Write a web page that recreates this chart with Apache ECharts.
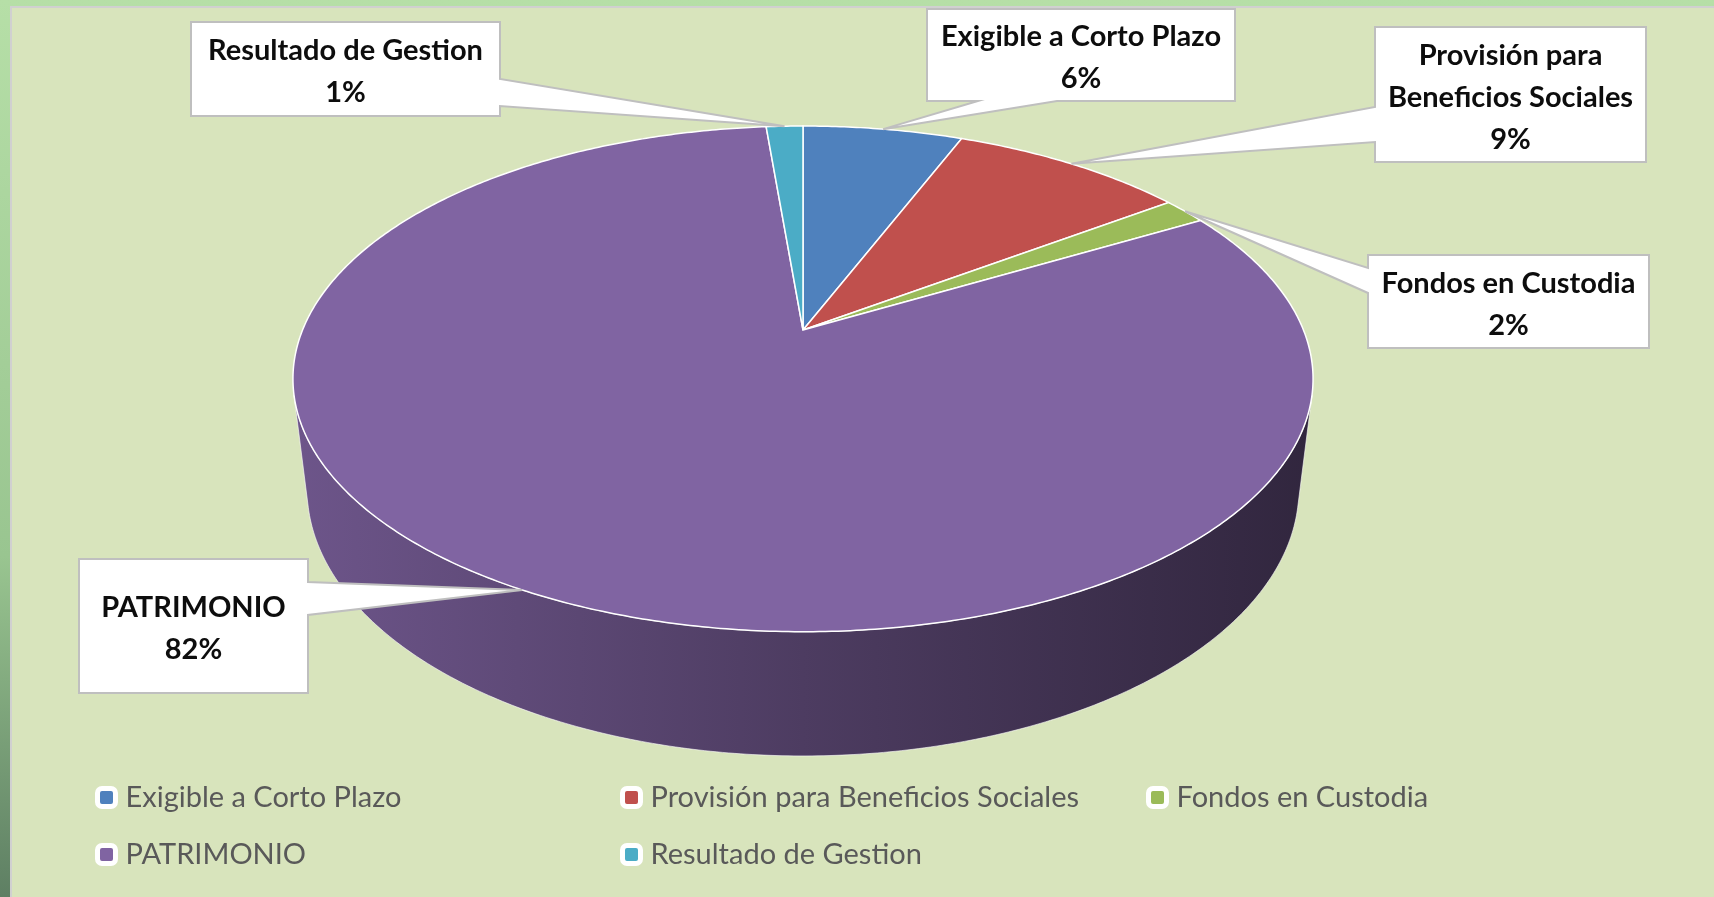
<!DOCTYPE html>
<html>
<head>
<meta charset="utf-8">
<script src="https://cdn.jsdelivr.net/npm/echarts@6/dist/echarts.min.js"></script>
<style>
html, body { margin: 0; padding: 0; }
#main { width: 1714px; height: 897px; }
</style>
</head>
<body>
<div id="main"></div>
<script>
// data
var categories = ['Exigible a Corto Plazo', 'Provisión para Beneficios Sociales', 'Fondos en Custodia', 'PATRIMONIO', 'Resultado de Gestion'];
var values = [6.1, 9.0, 1.7, 81.8, 1.4];
var labelNames = ['Exigible a Corto Plazo', 'Provisión para\nBeneficios Sociales', 'Fondos en Custodia', 'PATRIMONIO', 'Resultado de Gestion'];
var colors = ['#4f81bd', '#c0504d', '#9bbb59', '#8064a2', '#4bacc6'];

// callout boxes: [x, y, w, h], side the wedge leaves from, wedge base along that side
var callouts = [
  { box: [927, 9, 308, 92], side: 'bottom', base: [978, 1057] },
  { box: [1375, 27, 271, 135], side: 'left', base: [107, 142] },
  { box: [1368, 255, 281, 93], side: 'left', base: [268, 293] },
  { box: [79, 559, 229, 134], side: 'right', base: [582, 615] },
  { box: [191, 22, 309, 94], side: 'right', base: [79, 106] }
];
// legend slots (3 columns, 2 rows)
var legendSlots = [[95, 783], [620, 783], [1146, 783], [95, 840], [620, 840]];

// 3d pie camera
var CX = 803, CY = 330, F = 2262.5, D = 4.521;
var SA = 0.4864, CA = 0.8737, H = 0.256;
var T = 1 / (D * CA);
var wallFrom = Math.acos(-T), wallTo = 2 * Math.PI - Math.acos(-T);

var total = values.reduce(function (a, b) { return a + b; }, 0);
var startAngles = [], endAngles = [];
var acc = 0;
values.forEach(function (v) {
  startAngles.push(acc / total * 2 * Math.PI);
  acc += v;
  endAngles.push(acc / total * 2 * Math.PI);
});

function darken(hex, k) {
  var n = parseInt(hex.slice(1), 16);
  var r = Math.round(((n >> 16) & 255) * k);
  var g = Math.round(((n >> 8) & 255) * k);
  var b = Math.round((n & 255) * k);
  return 'rgb(' + r + ',' + g + ',' + b + ')';
}

function proj(phi, lvl) {
  var X = Math.sin(phi), Z = -Math.cos(phi), Y = -lvl * H;
  var v = Y * CA - Z * SA;
  var w = D - Z * CA - Y * SA;
  return [CX + F * X / w, CY - F * v / w];
}

function arc(a, b, lvl) {
  var pts = [];
  var n = Math.max(2, Math.ceil(Math.abs(b - a) / 0.01));
  for (var k = 0; k <= n; k++) {
    pts.push(proj(a + (b - a) * k / n, lvl));
  }
  return pts;
}

function calloutShape(c, tip) {
  var x = c.box[0], y = c.box[1], w = c.box[2], h = c.box[3];
  var b = c.base;
  var pts = [[x, y], [x + w, y]];
  if (c.side === 'right') pts.push([x + w, b[0]], tip, [x + w, b[1]]);
  pts.push([x + w, y + h]);
  if (c.side === 'bottom') pts.push([b[1], y + h], tip, [b[0], y + h]);
  pts.push([x, y + h]);
  if (c.side === 'left') pts.push([x, b[1]], tip, [x, b[0]]);
  return pts;
}

var leftX = proj(wallTo, 0)[0], rightX = proj(wallFrom, 0)[0];

function renderSlice(params, api) {
  var i = params.seriesIndex;
  var a0 = startAngles[i], a1 = endAngles[i];
  var color = colors[i];
  var children = [];

  var lo = Math.max(a0, wallFrom), hi = Math.min(a1, wallTo);
  if (hi > lo) {
    var wall = arc(lo, hi, 0).concat(arc(hi, lo, 1));
    children.push({
      type: 'polygon',
      z2: 1,
      shape: { points: wall },
      style: {
        fill: {
          type: 'linear', x: leftX, y: 0, x2: rightX, y2: 0, global: true,
          colorStops: [
            { offset: 0, color: darken(color, 0.85) },
            { offset: 0.5, color: darken(color, 0.6) },
            { offset: 1, color: darken(color, 0.38) }
          ]
        },
        stroke: 'rgba(255,255,255,0.6)',
        lineWidth: 1
      }
    });
  }

  var top = [[CX, CY]].concat(arc(a0, a1, 0));
  children.push({
    type: 'polygon',
    z2: 5,
    shape: { points: top },
    style: { fill: color, stroke: '#ffffff', lineWidth: 1.5 }
  });

  var c = callouts[i];
  var tip = proj((a0 + a1) / 2, 0);
  children.push({
    type: 'polygon',
    z2: 10,
    shape: { points: calloutShape(c, tip) },
    style: { fill: '#ffffff', stroke: '#bfbfbf', lineWidth: 2 }
  });
  var pct = Math.round(values[i] / total * 100) + '%';
  children.push({
    type: 'text',
    z2: 11,
    style: {
      text: labelNames[i] + '\n' + pct,
      x: c.box[0] + c.box[2] / 2,
      y: c.box[1] + c.box[3] / 2 + 3,
      align: 'center',
      verticalAlign: 'middle',
      textAlign: 'center',
      textVerticalAlign: 'middle',
      fontFamily: 'Lato',
      fontWeight: 'bold',
      fontSize: 29,
      lineHeight: 42,
      fill: '#0d0d0d'
    }
  });
  return { type: 'group', children: children };
}

var series = categories.map(function (name, i) {
  return {
    type: 'custom',
    name: name,
    coordinateSystem: 'none',
    silent: true,
    itemStyle: { color: colors[i] },
    data: [values[i]],
    renderItem: renderSlice
  };
});

var legends = categories.map(function (name, i) {
  return {
    left: legendSlots[i][0],
    top: legendSlots[i][1],
    padding: 0,
    icon: 'roundRect',
    itemWidth: 18,
    itemHeight: 18,
    selectedMode: false,
    itemStyle: { borderColor: '#ffffff', borderWidth: 5 },
    textStyle: { fontFamily: 'Lato', fontSize: 29, color: '#595959', padding: [0, 0, 0, 5] },
    data: [name]
  };
});

var chart = echarts.init(document.getElementById('main'));
chart.setOption({
  animation: false,
  graphic: {
    elements: [
      {
        type: 'rect', z: -10, silent: true,
        shape: { x: 0, y: 0, width: 1714, height: 897 },
        style: {
          fill: {
            type: 'linear', x: 0, y: 0, x2: 0, y2: 1,
            colorStops: [
              { offset: 0, color: '#b6dfa7' },
              { offset: 0.62, color: '#99c590' },
              { offset: 1, color: '#5e7f63' }
            ]
          }
        }
      },
      {
        type: 'rect', z: -9, silent: true,
        shape: { x: 11, y: 7, width: 1710, height: 900 },
        style: { fill: '#d8e4bc', stroke: '#d0d0d0', lineWidth: 2 }
      }
    ]
  },
  legend: legends,
  series: series
});
</script>
</body>
</html>
